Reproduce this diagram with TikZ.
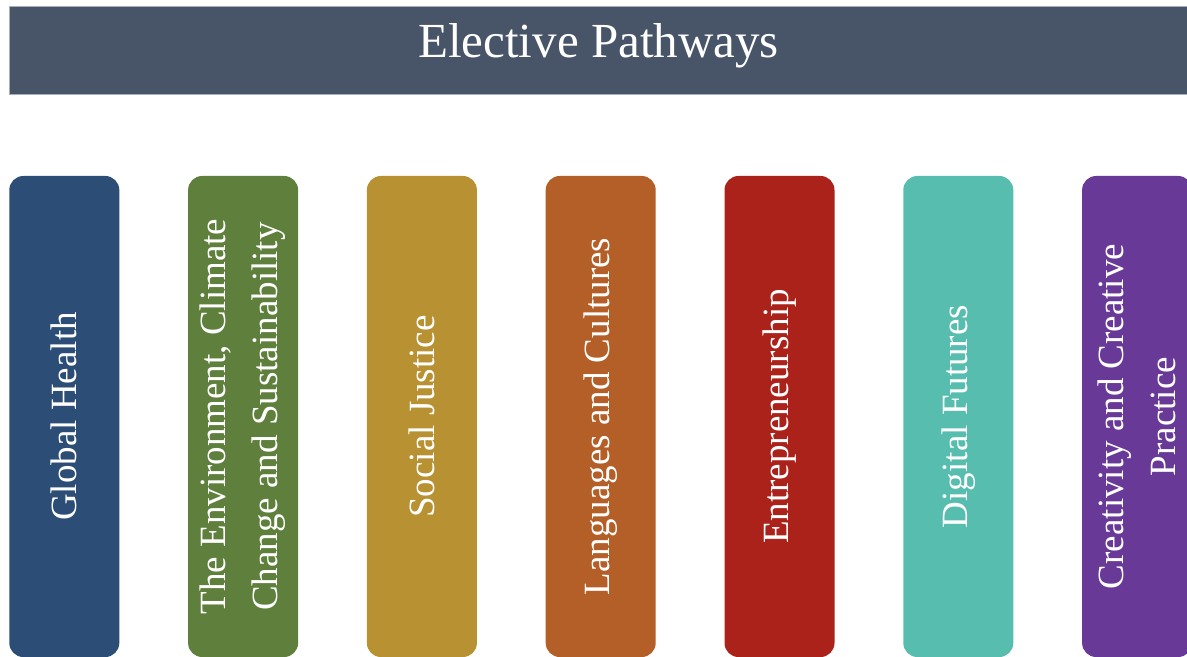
\documentclass[tikz,border=0pt]{standalone}
\usepackage{fontspec}
\setmainfont{Liberation Serif}
\definecolor{headbg}{RGB}{72,84,103}
\definecolor{headline}{RGB}{165,175,190}
\definecolor{healthblue}{RGB}{44,77,117}
\definecolor{climategreen}{RGB}{95,128,60}
\definecolor{justicegold}{RGB}{183,145,50}
\definecolor{langorange}{RGB}{180,94,40}
\definecolor{entred}{RGB}{171,34,26}
\definecolor{digiteal}{RGB}{87,190,175}
\definecolor{creapurple}{RGB}{105,57,152}
\tikzset{
	pathway/.style={rotate=90, minimum width=481bp, minimum height=110bp, rounded corners=14bp, inner sep=0pt, text=white, align=center, font=\fontsize{37bp}{52bp}\selectfont},
}
\begin{document}
\begin{tikzpicture}[x=1bp,y=-1bp]
	\useasboundingbox (0,0) rectangle (1187,657);
	\node[fill=headbg, draw=headline, line width=.8bp, minimum width=1180bp, minimum height=88bp, inner sep=0pt] (header) at (599.5,50) {};
	\node[anchor=base, text=white, font=\fontsize{49bp}{58bp}\selectfont] (title) at (598.5,58) {Elective Pathways};
	\node[pathway, fill=healthblue] (health) at (64.3,416.5) {Global Health};
	\node[pathway, fill=climategreen] (climate) at (243.1,416.5) {The Environment, Climate\\Change and Sustainability};
	\node[pathway, fill=justicegold] (justice) at (421.9,416.5) {Social Justice};
	\node[pathway, fill=langorange] (languages) at (600.7,416.5) {Languages and Cultures};
	\node[pathway, fill=entred] (enterprise) at (779.5,416.5) {Entrepreneurship};
	\node[pathway, fill=digiteal] (digital) at (958.3,416.5) {Digital Futures};
	\node[pathway, fill=creapurple] (creative) at (1137.1,416.5) {Creativity and Creative\\Practice};
\end{tikzpicture}
\end{document}
